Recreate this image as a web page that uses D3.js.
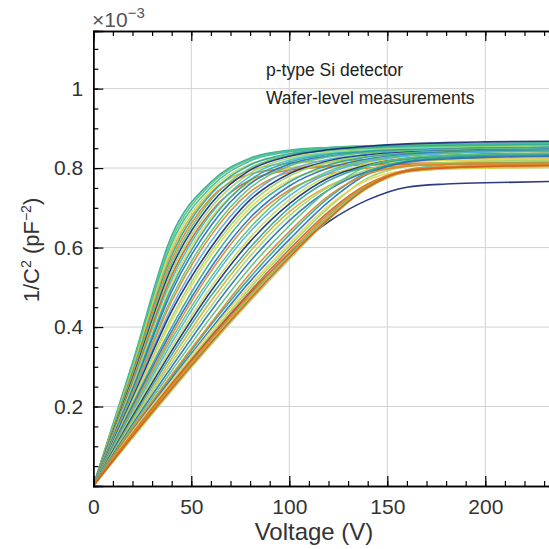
<!DOCTYPE html>
<html>
<head>
<meta charset="utf-8">
<script src="https://cdn.jsdelivr.net/npm/d3@7"></script>
<style>
  body { margin: 0; background: #fff; }
  svg { display: block; font-family: "Liberation Sans", Arial, sans-serif; }
</style>
</head>
<body>
<svg id="chart" width="549" height="549"></svg>
<script>
// bias voltage samples shared by every curve (V)
const voltages = [0, 20, 40, 60, 80, 100, 120, 140, 160, 180, 200, 240];

// 1/C^2 values (x1e-3 pF^-2)
// early depletion, high plateau
const upperCurves = [
  [0, .31, .63, .765, .825, .845, .852, .856, .859, .861, .862, .864],
  [0, .305, .62, .76, .822, .843, .851, .855, .858, .86, .861, .863],
  [0, .30, .61, .752, .818, .841, .849, .853, .856, .858, .859, .861],
  [0, .295, .60, .745, .81, .83, .836, .839, .841, .842, .843, .845],
  [0, .29, .59, .738, .795, .812, .818, .821, .823, .824, .825, .826],
  [0, .285, .58, .735, .808, .836, .846, .851, .854, .856, .857, .859],
  [0, .28, .57, .725, .785, .80, .806, .809, .811, .812, .813, .814],
  [0, .275, .56, .72, .80, .832, .844, .849, .852, .854, .855, .857],
  [0, .27, .55, .71, .795, .83, .846, .855, .861, .864, .866, .868],
  [0, .265, .54, .70, .787, .825, .84, .846, .85, .852, .853, .855],
  [0, .26, .53, .69, .77, .795, .804, .808, .81, .811, .812, .813],
  [0, .255, .52, .685, .78, .82, .836, .843, .847, .849, .85, .852],
  [0, .25, .51, .675, .765, .80, .812, .817, .82, .821, .822, .823],
  [0, .245, .50, .668, .77, .815, .834, .842, .846, .848, .85, .852]
];
const upperColors = ["teal", "green", "teal2", "yellowGreen", "gold", "teal", "orange",
  "green", "navy", "lightGreen", "darkOrange", "cyan", "yellow", "teal"];

// middle of the fan
const middleCurves = [
  [0, .24, .49, .655, .76, .81, .83, .84, .845, .848, .85, .852],
  [0, .235, .475, .64, .75, .805, .828, .839, .844, .847, .849, .851],
  [0, .23, .465, .63, .74, .79, .805, .81, .812, .813, .814, .815],
  [0, .225, .45, .615, .73, .795, .822, .835, .841, .844, .846, .848],
  [0, .22, .44, .60, .72, .786, .818, .833, .84, .843, .845, .847],
  [0, .215, .425, .59, .71, .78, .815, .83, .838, .842, .844, .846],
  [0, .21, .415, .58, .70, .77, .80, .812, .817, .819, .82, .822],
  [0, .205, .40, .565, .69, .765, .808, .828, .837, .841, .843, .845],
  [0, .20, .39, .55, .675, .755, .80, .823, .834, .839, .842, .844],
  [0, .195, .38, .54, .665, .745, .785, .80, .806, .809, .81, .812],
  [0, .19, .37, .525, .65, .74, .792, .82, .832, .838, .841, .843],
  [0, .185, .36, .515, .64, .73, .787, .816, .83, .836, .84, .842],
  [0, .18, .35, .50, .625, .72, .78, .81, .825, .832, .836, .838],
  [0, .175, .34, .49, .615, .71, .775, .808, .824, .831, .835, .837],
  [0, .17, .33, .478, .60, .70, .768, .805, .822, .83, .834, .836],
  [0, .165, .32, .465, .59, .69, .755, .79, .805, .81, .812, .814],
  [0, .16, .31, .452, .578, .68, .752, .796, .818, .827, .831, .834],
  [0, .155, .30, .44, .565, .668, .745, .792, .816, .826, .83, .833]
];
const middleColors = ["blue", "green", "orange", "lightBlue", "navy", "lightGreen", "yellow",
  "teal", "blue", "orange", "green", "lightBlue", "yellowGreen", "navy", "teal", "gold",
  "lightGreen", "blue"];

// late depletion, lower plateau
const lowerCurves = [
  [0, .13, .255, .375, .485, .585, .665, .72, .752, .76, .763, .767],
  [0, .15, .29, .425, .55, .655, .745, .805, .825, .832, .835, .837],
  [0, .142, .275, .405, .525, .632, .725, .79, .818, .827, .831, .833],
  [0, .14, .27, .395, .515, .62, .715, .785, .815, .823, .827, .83],
  [0, .134, .26, .382, .498, .603, .70, .775, .805, .814, .817, .82],
  [0, .128, .25, .367, .478, .582, .68, .755, .795, .808, .812, .815],
  [0, .12, .24, .355, .465, .57, .67, .75, .79, .798, .80, .803],
  [0, .137, .265, .39, .505, .61, .705, .77, .794, .798, .80, .802],
  [0, .126, .247, .363, .474, .578, .675, .75, .79, .799, .802, .805],
  [0, .145, .28, .41, .535, .64, .73, .785, .805, .81, .812, .813],
  [0, .132, .257, .376, .49, .595, .69, .76, .793, .801, .805, .808],
  [0, .13, .253, .37, .483, .588, .685, .758, .795, .804, .807, .81],
  [0, .125, .245, .36, .47, .575, .672, .752, .793, .801, .804, .807]
];
const lowerColors = ["navy", "green", "teal", "blue", "lightGreen", "green", "lightGreen",
  "yellow", "gold", "orange", "darkOrange", "orange", "darkOrange"];

const palette = {
  teal: "#2ba89a", teal2: "#3dbaa2", green: "#5cc27a", lightGreen: "#9fd66c",
  yellowGreen: "#c4dc58", yellow: "#e6d452", gold: "#d6ab38", orange: "#e0862a",
  darkOrange: "#d2601c", blue: "#2a6fc0", lightBlue: "#52aee0", cyan: "#3cc0d2",
  navy: "#1c2a78"
};

const xTicks = [0, 50, 100, 150, 200];
const yTicks = [0.2, 0.4, 0.6, 0.8, 1];
const yTickLabels = ["0.2", "0.4", "0.6", "0.8", "1"];

const plotLeft = 93.3, plotRight = 583.3, plotTop = 31, plotBottom = 486;
const svg = d3.select("#chart");

const x = d3.scaleLinear().domain([0, 250]).range([plotLeft, plotRight]);
const y = d3.scaleLinear().domain([0, 1.145]).range([plotBottom, plotTop]);

// grid
const grid = svg.append("g").attr("stroke", "#d2d2d2").attr("stroke-width", 1);
grid.selectAll(".vg").data(xTicks.slice(1)).join("line")
  .attr("x1", d => x(d)).attr("x2", d => x(d))
  .attr("y1", plotTop).attr("y2", plotBottom);
grid.selectAll(".hg").data(yTicks).join("line")
  .attr("x1", plotLeft).attr("x2", plotRight)
  .attr("y1", d => y(d)).attr("y2", d => y(d));

svg.append("clipPath").attr("id", "plot")
  .append("rect").attr("x", plotLeft).attr("y", plotTop)
  .attr("width", plotRight - plotLeft).attr("height", plotBottom - plotTop);

const line = d3.line()
  .x((d, i) => x(voltages[i]))
  .y(d => y(d))
  .curve(d3.curveMonotoneX);

const series = [];
upperCurves.forEach((c, i) => series.push({ v: c, col: upperColors[i] }));
middleCurves.forEach((c, i) => series.push({ v: c, col: middleColors[i] }));
lowerCurves.forEach((c, i) => series.push({ v: c, col: lowerColors[i] }));

svg.append("g").attr("clip-path", "url(#plot)")
  .selectAll("path").data(series).join("path")
  .attr("fill", "none")
  .attr("stroke", d => palette[d.col])
  .attr("stroke-width", 1.6)
  .attr("stroke-opacity", 0.92)
  .attr("d", d => line(d.v));

// axes, ticks pointing inward
const fmt = (d, i) => yTickLabels[i];

svg.append("g").attr("transform", `translate(0,${plotBottom})`)
  .call(d3.axisBottom(x).tickValues(d3.range(0, 251, 10)).tickSize(-5).tickFormat(""));
svg.append("g").attr("transform", `translate(0,${plotBottom})`)
  .call(d3.axisBottom(x).tickValues(xTicks).tickSize(-10).tickPadding(13))
  .call(g => g.selectAll("text").attr("font-size", 21).attr("fill", "#333")
    .attr("font-family", "Liberation Sans, Arial, sans-serif"));

svg.append("g").attr("transform", `translate(0,${plotTop})`)
  .call(d3.axisTop(x).tickValues(d3.range(0, 251, 10)).tickSize(-5).tickFormat(""));
svg.append("g").attr("transform", `translate(0,${plotTop})`)
  .call(d3.axisTop(x).tickValues(xTicks).tickSize(-10).tickFormat(""));

svg.append("g").attr("transform", `translate(${plotLeft},0)`)
  .call(d3.axisLeft(y).tickValues(d3.range(0.05, 1.14, 0.05)).tickSize(-5).tickFormat(""));
svg.append("g").attr("transform", `translate(${plotLeft},0)`)
  .call(d3.axisLeft(y).tickValues(yTicks).tickSize(-10).tickPadding(10).tickFormat(fmt))
  .call(g => g.selectAll("text").attr("font-size", 21).attr("fill", "#333")
    .attr("font-family", "Liberation Sans, Arial, sans-serif"));

svg.selectAll(".domain").attr("stroke", "#000").attr("stroke-width", 1.4);
svg.selectAll(".tick line").attr("stroke", "#000").attr("stroke-width", 1.2);

// exponent
const ex = svg.append("text").attr("x", 92).attr("y", 27)
  .attr("font-size", 21).attr("fill", "#555");
ex.append("tspan").text("\u00d710");
ex.append("tspan").attr("dy", -9).attr("font-size", 15).text("\u22123");

// axis titles
svg.append("text").attr("x", 314).attr("y", 540)
  .attr("text-anchor", "middle").attr("font-size", 24).attr("fill", "#333")
  .text("Voltage (V)");

const yl = svg.append("text")
  .attr("transform", "translate(39,250) rotate(-90)")
  .attr("text-anchor", "middle").attr("font-size", 22).attr("fill", "#333");
yl.append("tspan").text("1/C");
yl.append("tspan").attr("dy", -8).attr("font-size", 14).text("2");
yl.append("tspan").attr("dy", 8).text(" (pF");
yl.append("tspan").attr("dy", -8).attr("font-size", 14).text("\u22122");
yl.append("tspan").attr("dy", 8).text(")");

// annotation
svg.append("text").attr("x", 266).attr("y", 76)
  .attr("font-size", 17.5).attr("fill", "#222").text("p-type Si detector");
svg.append("text").attr("x", 266).attr("y", 104)
  .attr("font-size", 17.5).attr("fill", "#222").text("Wafer-level measurements");
</script>
</body>
</html>
